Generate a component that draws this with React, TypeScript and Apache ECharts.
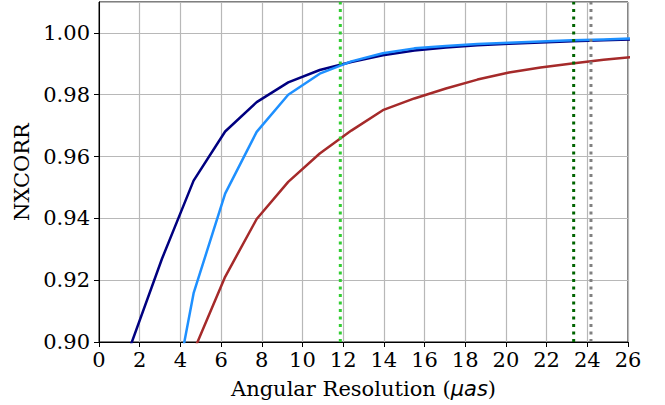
import React, { useEffect, useRef } from "react";
import * as echarts from "echarts";

const resolution = [1.55, 3.1, 4.65, 6.2, 7.75, 9.3, 10.85, 12.4, 13.95, 15.5, 17.05, 18.6, 20.15, 21.7, 23.25, 24.8, 26.35];
const navyValues = [0.8988, 0.927, 0.9522, 0.9681, 0.9776, 0.984, 0.988, 0.9906, 0.9928, 0.9943, 0.9953, 0.996, 0.9965, 0.9969, 0.9973, 0.9976, 0.9979];
const blueValues = [null, 0.862, 0.9158, 0.948, 0.968, 0.98, 0.9868, 0.9908, 0.9934, 0.995, 0.9958, 0.9964, 0.9968, 0.9972, 0.9976, 0.9979, 0.9982];
const redValues = [null, null, 0.897, 0.9211, 0.9398, 0.9518, 0.961, 0.9684, 0.975, 0.9788, 0.982, 0.9849, 0.9872, 0.9888, 0.9901, 0.9913, 0.9923];
const verticalLines = [11.86, 23.33, 24.18];
const verticalColors = ["#32cd32", "#006400", "#808080"];
const xTicks = { min: 0, max: 26, interval: 2 };
const yTicks = { min: 0.9, max: 1.01, interval: 0.02 };

function pairs(xs: number[], ys: (number | null)[]) {
  const out: number[][] = [];
  xs.forEach((x, i) => {
    const y = ys[i];
    if (y !== null && y !== undefined) out.push([x, y]);
  });
  return out;
}

export default function App() {
  const ref = useRef<HTMLDivElement>(null);
  useEffect(() => {
    if (!ref.current) return;
    const chart = echarts.init(ref.current, undefined, { renderer: "svg" });
    const serif = "DejaVu Serif";
    const curve = (data: number[][], color: string) => ({
      type: "line",
      data,
      showSymbol: false,
      symbol: "none",
      clip: true,
      lineStyle: { color, width: 2.5 },
      z: 3,
    });
    const vSeries = verticalLines.map((x, i) => ({
      type: "line",
      data: [
        [x, yTicks.min],
        [x, yTicks.max],
      ],
      showSymbol: false,
      symbol: "none",
      lineStyle: { color: verticalColors[i], width: 3, type: [3, 4.5] },
      z: 4,
    }));
    chart.setOption({
      animation: false,
      grid: {
        left: 99,
        right: 37,
        top: 2,
        bottom: 63,
        show: true,
        borderColor: "#000",
        borderWidth: 1,
        backgroundColor: "transparent",
      },
      xAxis: {
        type: "value",
        min: xTicks.min,
        max: xTicks.max,
        interval: xTicks.interval,
        name: "Angular Resolution ({i|μas})",
        nameLocation: "middle",
        nameGap: 36,
        nameTextStyle: {
          fontFamily: serif,
          fontSize: 21,
          color: "#000",
          rich: {
            i: { fontFamily: "DejaVu Sans", fontStyle: "italic", fontSize: 21, color: "#000" },
          },
        },
        axisLine: { show: true, lineStyle: { color: "#000", width: 1 } },
        axisTick: { show: true, inside: false, length: 5, lineStyle: { color: "#000", width: 1 } },
        axisLabel: { fontFamily: serif, fontSize: 21, color: "#000", margin: 7 },
        splitLine: { show: true, lineStyle: { color: "#b8b8b8", width: 1.2 } },
      },
      yAxis: {
        type: "value",
        min: yTicks.min,
        max: yTicks.max,
        interval: yTicks.interval,
        name: "NXCORR",
        nameLocation: "middle",
        nameGap: 64,
        nameTextStyle: { fontFamily: serif, fontSize: 21, color: "#000" },
        axisLine: { show: true, lineStyle: { color: "#000", width: 1 } },
        axisTick: { show: true, inside: false, length: 5, lineStyle: { color: "#000", width: 1 } },
        axisLabel: {
          fontFamily: serif,
          fontSize: 21,
          color: "#000",
          margin: 9,
          showMaxLabel: false,
          formatter: (v: number) => v.toFixed(2),
        },
        splitLine: { show: true, lineStyle: { color: "#b8b8b8", width: 1.2 } },
      },
      series: [
        curve(pairs(resolution, redValues), "#a52a2a"),
        curve(pairs(resolution, navyValues), "#000080"),
        curve(pairs(resolution, blueValues), "#1e90ff"),
        ...vSeries,
      ],
    });
    return () => chart.dispose();
  }, []);
  return (
    <div
      ref={ref}
      style={{ position: "fixed", left: 0, top: 0, width: 665, height: 405, background: "#fff" }}
    />
  );
}
